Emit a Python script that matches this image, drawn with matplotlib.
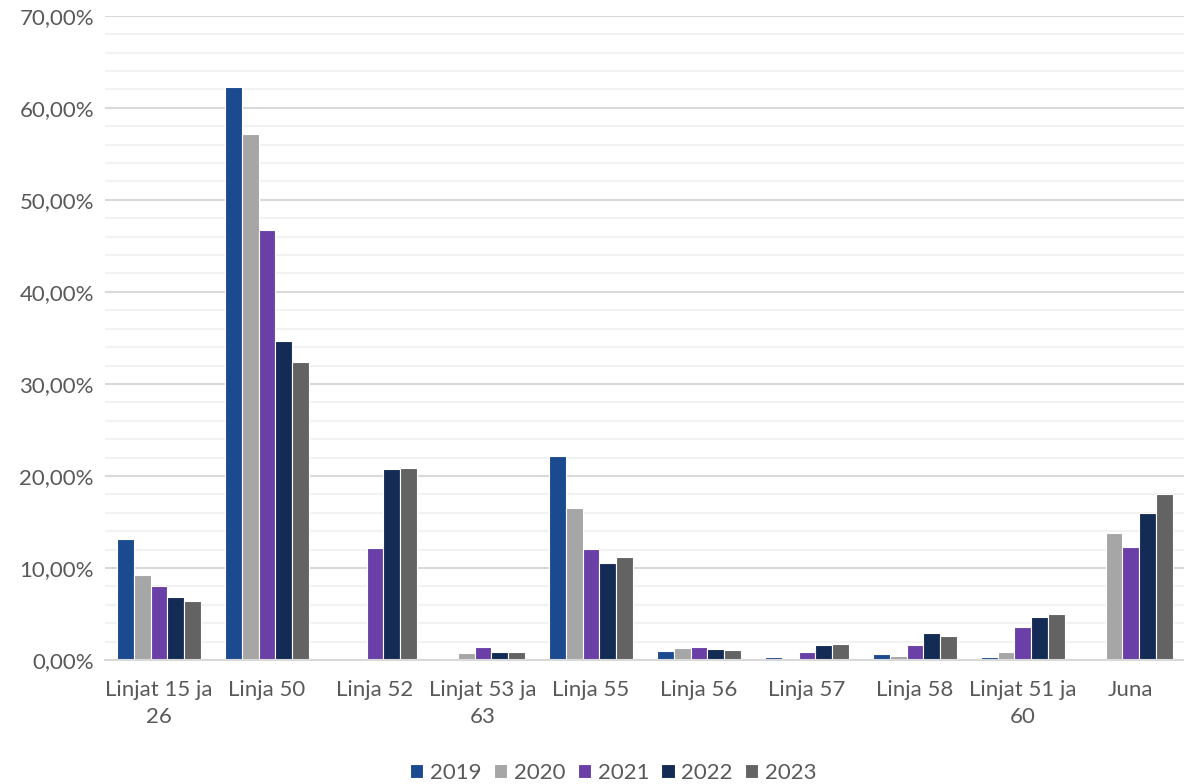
import matplotlib.pyplot as plt
import numpy as np
from matplotlib.ticker import MultipleLocator, FuncFormatter

categories = ["Linjat 15 ja\n26", "Linja 50", "Linja 52", "Linjat 53 ja\n63", "Linja 55",
              "Linja 56", "Linja 57", "Linja 58", "Linjat 51 ja\n60", "Juna"]
years = ["2019", "2020", "2021", "2022", "2023"]
v2019 = [13.2, 62.3, 0.0, 0.2, 22.2, 1.0, 0.3, 0.7, 0.3, 0.0]
v2020 = [9.3, 57.2, 0.0, 0.8, 16.5, 1.3, 0.0, 0.5, 0.9, 13.8]
v2021 = [8.0, 46.7, 12.2, 1.4, 12.1, 1.4, 0.9, 1.6, 3.6, 12.3]
v2022 = [6.9, 34.7, 20.8, 0.9, 10.5, 1.2, 1.6, 2.9, 4.7, 16.0]
v2023 = [6.4, 32.4, 20.9, 0.9, 11.2, 1.1, 1.8, 2.6, 5.0, 18.0]
colors = ["#1B4A8F", "#A6A6A6", "#6A40A8", "#132B55", "#636363"]

plt.rcParams['font.family'] = ['Lato', 'DejaVu Sans']

fig = plt.figure(figsize=(11.84, 7.84), dpi=100)
ax = fig.add_axes([0.0887, 0.158, 0.912, 0.822])

x = np.arange(len(categories))
w = 0.155
series = [v2019, v2020, v2021, v2022, v2023]
for i, (vals, c, yr) in enumerate(zip(series, colors, years)):
    ax.bar(x + (i - 2) * w, vals, width=w, color=c, edgecolor="white", linewidth=0.8,
           label=yr, zorder=3)

ax.set_xlim(-0.5, len(categories) - 0.5)
ax.set_ylim(0, 70)
ax.yaxis.set_major_locator(MultipleLocator(10))
ax.yaxis.set_minor_locator(MultipleLocator(2))
ax.yaxis.set_major_formatter(FuncFormatter(lambda v, p: f"{v:.2f}".replace(".", ",") + "%"))
ax.grid(axis="y", which="major", color="#D9D9D9", linewidth=1.5, zorder=0)
ax.grid(axis="y", which="minor", color="#F2F2F2", linewidth=1.5, zorder=0)
ax.set_xticks(x)
ax.set_xticklabels(categories, linespacing=1.45)
ax.tick_params(axis="both", which="both", length=0, labelsize=16, colors="#595959")
ax.tick_params(axis="x", pad=14)
ax.tick_params(axis="y", pad=8)
for s in ["top", "right", "left"]:
    ax.spines[s].set_visible(False)
ax.spines["bottom"].set_color("#D9D9D9")
ax.spines["bottom"].set_linewidth(1.5)
ax.spines["bottom"].set_zorder(4)

leg = fig.legend(loc="lower center", bbox_to_anchor=(0.518, -0.024), ncol=5, frameon=False,
                 fontsize=16, handlelength=0.6, handleheight=0.6, handletextpad=0.3,
                 columnspacing=0.55)
for t in leg.get_texts():
    t.set_color("#595959")

fig.savefig("out.png", dpi=100)
